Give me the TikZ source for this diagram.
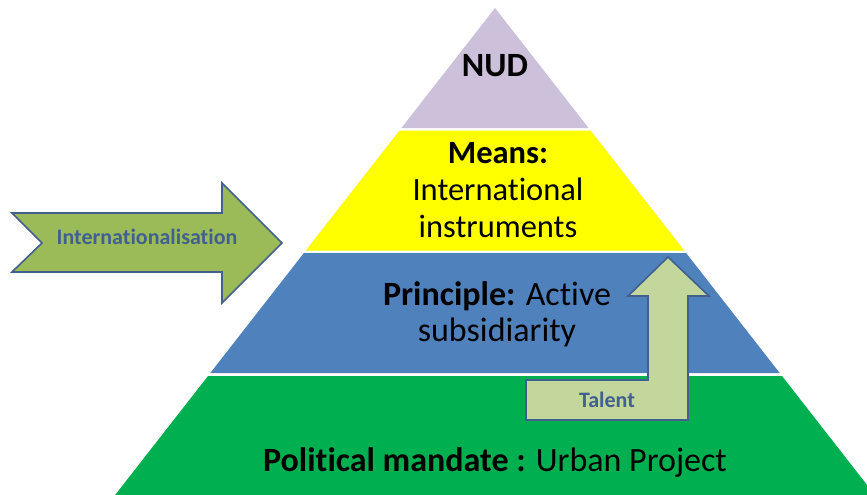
\documentclass[tikz,border=0pt]{standalone}
\usepackage{fontspec}
\setmainfont{Carlito}[Ligatures=NoCommon]
\definecolor{nudlav}{HTML}{CCC0DA}
\definecolor{meansyel}{HTML}{FFFF00}
\definecolor{princblue}{HTML}{4F81BD}
\definecolor{mandgreen}{HTML}{00B050}
\definecolor{arrowolive}{HTML}{9BBB59}
\definecolor{arrowpale}{HTML}{C3D69B}
\definecolor{arrowedge}{HTML}{41608F}
\tikzset{
  layertext/.style={font=\fontsize{34}{36}\selectfont, align=center, inner sep=0pt},
  arrowtext/.style={font=\fontsize{22}{24}\selectfont\bfseries, text=arrowedge, inner sep=0pt},
  arrowshape/.style={draw=arrowedge, line width=1.6pt, line join=miter}
}

\begin{document}
\begin{tikzpicture}[x=1pt,y=-1pt]
\useasboundingbox (0,0) rectangle (867,495);
\clip (0,0) rectangle (867,495);
% pyramid layers
\fill[nudlav] (495,8) -- (588.6,128) -- (401.4,128) -- cycle;
\fill[meansyel] (399.5,130.5) -- (590.5,130.5) -- (684.2,250.5) -- (305.8,250.5) -- cycle;
\fill[princblue] (303.9,253) -- (686.1,253) -- (779.7,373) -- (210.3,373) -- cycle;
\fill[mandgreen] (208,376) -- (782,376) -- (874.9,495) -- (115.1,495) -- cycle;

% side arrows
\filldraw[arrowshape, fill=arrowolive]
  (12,213) -- (222,213) -- (222,183) -- (282,243) -- (222,303)
  -- (222,272) -- (12,272) -- (42,243) -- cycle;
\filldraw[arrowshape, fill=arrowpale]
  (526,380) -- (648,380) -- (648,296) -- (628,296) -- (668,257)
  -- (709,296) -- (688,296) -- (688,420) -- (526,420) -- cycle;

\node[layertext] (NUD) at (495,66) {\textbf{NUD}};
\node[layertext, font=\fontsize{32.5}{37}\selectfont] (Means) at (498,190)
     {\textbf{Means:}\\International\\instruments};
\node[layertext] (Principle) at (497,314)
     {\textbf{Principle:} Active\\subsidiarity};
\node[layertext] (Mandate) at (495,462)
     {\textbf{Political mandate :} Urban Project};
\node[arrowtext] (Intl) at (147,237) {Internationalisation};
\node[arrowtext] (Talent) at (607,400) {Talent};
\end{tikzpicture}
\end{document}
